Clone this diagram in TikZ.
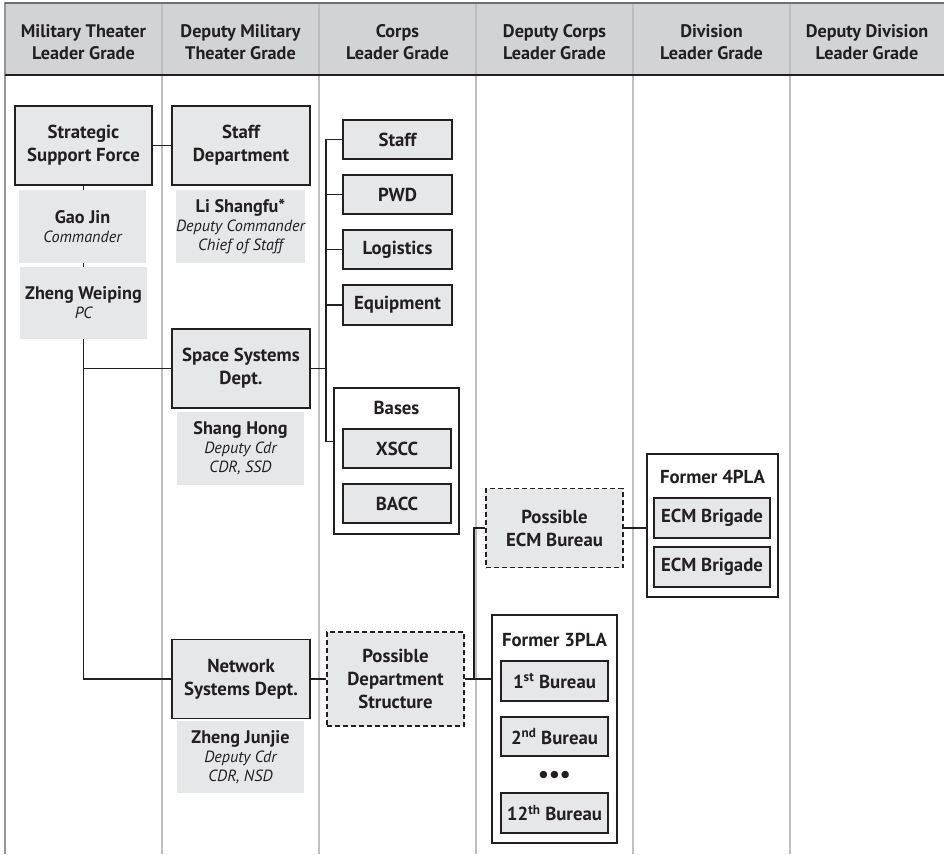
\documentclass[tikz,border=0pt]{standalone}
\usepackage{fontspec}
\setmainfont{PT Sans}
\usetikzlibrary{calc}
\pgfdeclarelayer{grid}
\pgfdeclarelayer{bg}
\pgfsetlayers{grid,bg,main}
\definecolor{boxfill}{HTML}{E6E7E8}
\definecolor{headfill}{HTML}{D1D3D4}
\definecolor{colline}{HTML}{BCBEC0}
\definecolor{borderline}{HTML}{939598}
\definecolor{headline}{HTML}{6D6E71}
\definecolor{ink}{HTML}{231F20}
\begin{document}
\begin{tikzpicture}[x=1pt,y=-1pt,
  head/.style={align=center, inner sep=0pt, text=ink, font=\fontsize{18.2}{21.5}\selectfont\bfseries},
  unit/.style={draw=ink, line width=1.8pt, fill=boxfill, align=center, inner sep=0pt, text=ink,
    font=\fontsize{18.8}{23}\selectfont\bfseries},
  possible/.style={unit, dash pattern=on 5pt off 3pt, line width=1.5pt},
  small/.style={draw=ink, line width=1.8pt, fill=boxfill, align=center, inner sep=0pt, text=ink,
    font=\fontsize{18.8}{22}\selectfont\bfseries},
  holder/.style={draw=ink, line width=1.5pt, fill=white, inner sep=0pt},
  holdertitle/.style={inner sep=0pt, text=ink, font=\fontsize{18.8}{22}\selectfont\bfseries},
  namebox/.style={fill=boxfill, align=center, inner sep=0pt, text=ink,
    minimum width=127pt, minimum height=73pt, font=\fontsize{16.2}{19}\selectfont},
  conn/.style={draw=ink, line width=1.5pt}
]
\useasboundingbox (0,0) rectangle (944,854);
\begin{pgfonlayer}{grid}
\fill[headfill] (5,3) rectangle (944,75);
\foreach \x in {162,319,476,633,790} \draw[colline,line width=1.5pt] (\x,3) -- (\x,854);
\draw[borderline,line width=2pt] (5,2.2) -- (5,854);
\draw[headline,line width=1.5pt] (5,3) -- (944,3);
\draw[ink,line width=2.5pt] (5,75) -- (944,75);
\end{pgfonlayer}

% header
\node[head] (h1) at (83.5,42) {Military Theater\\Leader Grade};
\node[head] (h2) at (240.5,42) {Deputy Military\\Theater Grade};
\node[head] (h3) at (397.5,42) {Corps\\Leader Grade};
\node[head] (h4) at (554.5,42) {Deputy Corps\\Leader Grade};
\node[head] (h5) at (711.5,42) {Division\\Leader Grade};
\node[head] (h6) at (867,42) {Deputy Division\\Leader Grade};

% column 1
\node[unit, minimum width=137pt, minimum height=79pt] (ssf) at (83.5,145.5) {Strategic\\Support Force};
\node[namebox] (gaojin) at (82.5,226.5) {{\fontsize{18.2}{19}\selectfont\bfseries Gao Jin}\\\itshape Commander};
\node[namebox, minimum height=72pt] (zhengwp) at (83.5,303) {{\fontsize{18.2}{19}\selectfont\bfseries Zheng Weiping}\\\itshape PC};

% column 2
\node[unit, minimum width=138pt, minimum height=79pt] (staffdept) at (241,145.5) {Staff\\Department};
\node[namebox] (lishangfu) at (240.5,226.5) {{\fontsize{18.2}{19}\selectfont\bfseries Li Shangfu*}\\\itshape Deputy Commander\\\itshape Chief of Staff};
\node[unit, minimum width=138pt, minimum height=79pt] (space) at (241,368.5) {Space Systems\\Dept.};
\node[namebox] (shanghong) at (240.5,448.5) {{\fontsize{18.2}{19}\selectfont\bfseries Shang Hong}\\\itshape Deputy Cdr\\\itshape CDR, SSD};
\node[unit, minimum width=138pt, minimum height=79pt] (network) at (241,679) {Network\\Systems Dept.};
\node[namebox, minimum height=72pt] (zhengjj) at (240.5,757) {{\fontsize{18.2}{19}\selectfont\bfseries Zheng Junjie}\\\itshape Deputy Cdr\\\itshape CDR, NSD};

% column 3
\node[small, minimum width=109pt, minimum height=39pt] (staff) at (397.5,139.5) {Staff};
\node[small, minimum width=109pt, minimum height=39pt] (pwd) at (397.5,194.5) {PWD};
\node[small, minimum width=109pt, minimum height=39pt] (logistics) at (397.5,249.5) {Logistics};
\node[small, minimum width=109pt, minimum height=40pt] (equipment) at (397.5,305) {Equipment};
\node[holder, minimum width=125pt, minimum height=146pt] (bases) at (396.5,461) {};
\node[holdertitle] (basesT) at (396.5,408) {Bases};
\node[small, minimum width=108pt, minimum height=39pt] (xscc) at (397,448.5) {XSCC};
\node[small, minimum width=108pt, minimum height=39pt] (bacc) at (397,503.5) {BACC};
\node[possible, minimum width=137pt, minimum height=94pt] (pds) at (395.5,679) {Possible\\Department\\Structure};

% column 4
\node[possible, minimum width=137pt, minimum height=79pt] (ecmb) at (554.5,528) {Possible\\ECM Bureau};
\node[holder, minimum width=125pt, minimum height=228pt] (former3) at (554.5,729) {};
\node[holdertitle] (former3T) at (554.5,640) {Former 3PLA};
\node[small, minimum width=107pt, minimum height=40pt] (b1) at (554.5,681) {1\textsuperscript{st} Bureau};
\node[small, minimum width=107pt, minimum height=39pt] (b2) at (554.5,736.5) {2\textsuperscript{nd} Bureau};
\node[text=ink, inner sep=0pt, font=\fontsize{24}{24}\selectfont\bfseries] (dots) at (554.5,777) {\textbullet\textbullet\textbullet};
\node[small, minimum width=107pt, minimum height=40pt] (b12) at (554.5,813) {12\textsuperscript{th} Bureau};

% column 5
\node[holder, minimum width=131pt, minimum height=143pt] (former4) at (712.5,525.5) {};
\node[holdertitle] (former4T) at (712.5,477) {Former 4PLA};
\node[small, minimum width=116pt, minimum height=40pt] (ecm1) at (712,518) {ECM Brigade};
\node[small, minimum width=116pt, minimum height=40pt] (ecm2) at (712,567) {ECM Brigade};

% connectors
\begin{pgfonlayer}{bg}
\draw[conn] (ssf) -- (staffdept);
\draw[conn] (ssf.south) -- (ssf.south |- network.west) -- (network.west);
\draw[conn] (space.west -| ssf.south) -- (space.west);
\coordinate (basesjoint) at ($(bases.north west)+(0,54)$);
\draw[conn] (staff.west) -- ++(-16,0) coordinate (bt) -- (bt |- basesjoint) -- (basesjoint);
\draw[conn] (pwd.west) -- (pwd.west -| bt);
\draw[conn] (logistics.west) -- (logistics.west -| bt);
\draw[conn] (equipment.west) -- (equipment.west -| bt);
\draw[conn] (space.east) -- (space.east -| bt);
\draw[conn] (network) -- (pds);
\draw[conn] (pds.east) -- (pds.east -| former3.west);
\coordinate (jn) at ($(pds.east)+(9,0)$);
\draw[conn] (jn) |- (ecmb.west);
\draw[conn] (ecmb.east) -- (ecmb.east -| former4.west);
\end{pgfonlayer}
\end{tikzpicture}
\end{document}
